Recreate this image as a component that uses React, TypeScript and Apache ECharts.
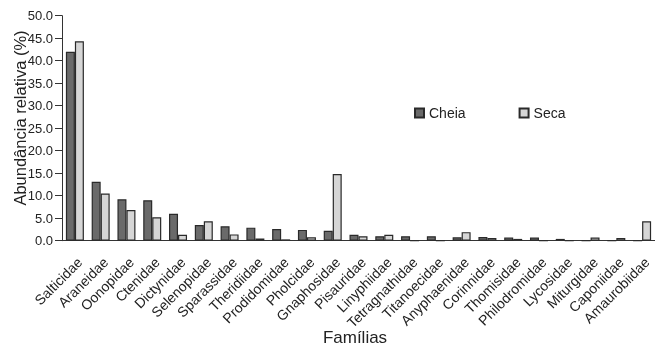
import React, { useEffect, useRef } from "react";
import * as echarts from "echarts";

const families = [
  "Salticidae", "Araneidae", "Oonopidae", "Ctenidae", "Dictynidae", "Selenopidae",
  "Sparassidae", "Theridiidae", "Prodidomidae", "Pholcidae", "Gnaphosidae", "Pisauridae",
  "Linyphiidae", "Tetragnathidae", "Titanoecidae", "Anyphaenidae", "Corinnidae",
  "Thomisidae", "Philodromidae", "Lycosidae", "Miturgidae", "Caponiidae", "Amaurobiidae",
];

const cheia = [42.0, 13.1, 9.2, 9.0, 6.0, 3.5, 3.2, 2.9, 2.6, 2.4, 2.2, 1.3, 1.0, 1.0, 1.0, 0.75, 0.8, 0.7, 0.7, 0.4, 0, 0, 0];
const seca = [44.3, 10.5, 6.8, 5.2, 1.3, 4.3, 1.4, 0.5, 0.3, 0.75, 14.8, 1.0, 1.3, 0, 0, 1.9, 0.6, 0.4, 0, 0, 0.7, 0.6, 4.3];

const FONT = "'Liberation Sans', Arial, Helvetica, sans-serif";
const TEXT = "#222";

export default function App() {
  const ref = useRef<HTMLDivElement>(null);

  useEffect(() => {
    if (!ref.current) return;
    const chart = echarts.init(ref.current, undefined, { renderer: "svg" });
    chart.setOption({
      animation: false,
      textStyle: { fontFamily: FONT, color: TEXT },
      grid: { left: 62, right: -4, top: 15.7, bottom: 105.3, containLabel: false },
      legend: {
        left: 409,
        top: 101,
        itemWidth: 9,
        itemHeight: 9,
        itemGap: 53,
        icon: "rect",
        textStyle: { fontSize: 14, color: TEXT, fontFamily: FONT },
        data: ["Cheia", "Seca"],
      },
      xAxis: {
        type: "category",
        data: families,
        axisLine: { lineStyle: { color: "#333", width: 1 } },
        axisTick: { length: 5, lineStyle: { color: "#333" } },
        axisLabel: {
          rotate: 45,
          interval: 0,
          margin: 14,
          align: "right",
          verticalAlign: "top",
          fontSize: 14,
          color: TEXT,
          fontFamily: FONT,
        },
      },
      yAxis: {
        type: "value",
        min: 0,
        max: 50,
        interval: 5,
        splitLine: { show: false },
        axisLine: { show: true, lineStyle: { color: "#333", width: 1 } },
        axisTick: { show: true, length: 7, lineStyle: { color: "#333" } },
        axisLabel: {
          fontSize: 13,
          color: TEXT,
          fontFamily: FONT,
          margin: 9,
          formatter: (v: number) => v.toFixed(1),
        },
      },
      graphic: [
        {
          type: "text",
          x: 20,
          y: 118,
          rotation: Math.PI / 2,
          style: {
            text: "Abundância relativa (%)",
            font: `16.5px ${FONT}`,
            fill: TEXT,
            textAlign: "center",
            textVerticalAlign: "middle",
          },
        },
        {
          type: "text",
          x: 355,
          y: 337.5,
          style: {
            text: "Famílias",
            font: `17px ${FONT}`,
            fill: TEXT,
            textAlign: "center",
            textVerticalAlign: "middle",
          },
        },
      ],
      series: [
        {
          name: "Cheia",
          type: "bar",
          data: cheia,
          barWidth: 9,
          barGap: "0%",
          itemStyle: { color: "#6a6a6a", borderColor: "#2a2a2a", borderWidth: 1.2 },
        },
        {
          name: "Seca",
          type: "bar",
          data: seca,
          barWidth: 9,
          barGap: "0%",
          itemStyle: { color: "#d6d6d6", borderColor: "#2a2a2a", borderWidth: 1.2 },
        },
      ],
    });
    return () => chart.dispose();
  }, []);

  return (
    <div style={{ position: "fixed", left: 0, top: 0, width: 655, height: 346, overflow: "hidden" }}>
      <div ref={ref} style={{ width: 655, height: 346 }} />
    </div>
  );
}
